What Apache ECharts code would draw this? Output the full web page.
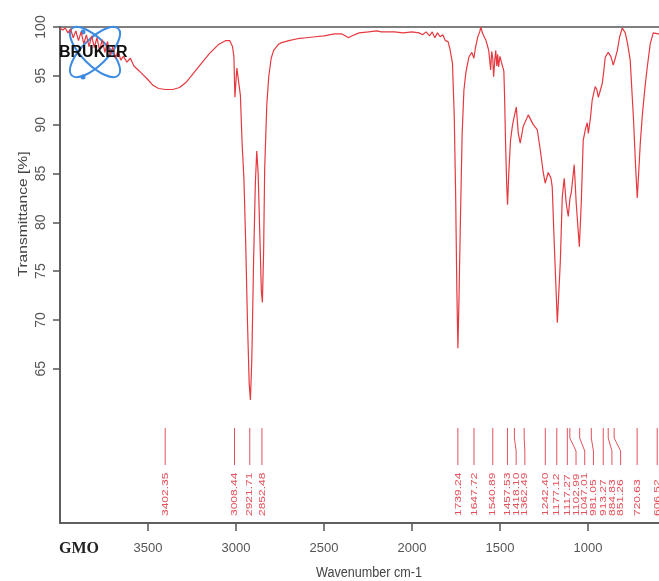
<!DOCTYPE html>
<html>
<head>
<meta charset="UTF-8">
<title>GMO FTIR</title>
<script src="https://cdn.jsdelivr.net/npm/echarts@6/dist/echarts.min.js"></script>
<style>
	html, body { margin: 0; padding: 0; background: #fff; }
	#main { width: 659px; height: 581px; }
</style>
</head>
<body>
<div id="main"></div>
<script type="text/javascript">
	// spectrum: wavenumber (cm-1) and transmittance (%)
	var wavenumbers = [
		4000, 3985, 3970, 3955, 3940, 3925, 3910, 3895, 3880, 3865, 3850, 3835, 3820, 3805, 3790, 3775,
		3760, 3745, 3730, 3715, 3700, 3685, 3670, 3655, 3640, 3620, 3600, 3580, 3550, 3500, 3470, 3440,
		3400, 3360, 3320, 3280, 3240, 3200, 3150, 3100, 3060, 3035, 3020, 3012, 3006, 3000, 2995, 2985,
		2975, 2965, 2955, 2945, 2935, 2925, 2918, 2910, 2900, 2890, 2882, 2874, 2865, 2856, 2850, 2843,
		2837, 2825, 2814, 2800, 2786, 2760, 2741, 2700, 2650, 2600, 2550, 2500, 2441, 2400, 2380, 2361,
		2340, 2300, 2248, 2200, 2175, 2100, 2050, 2000, 1960, 1940, 1920, 1900, 1885, 1870, 1855, 1840,
		1825, 1810, 1795, 1785, 1770, 1760, 1752, 1745, 1739, 1733, 1725, 1715, 1705, 1694, 1677, 1660,
		1654, 1648, 1640, 1626, 1615, 1609, 1600, 1590, 1581, 1570, 1564, 1556, 1553, 1547, 1541, 1536,
		1530, 1524, 1518, 1513, 1508, 1500, 1492, 1485, 1478, 1474, 1468, 1462, 1457, 1450, 1440, 1430,
		1423, 1407, 1396, 1385, 1368, 1339, 1311, 1288, 1271, 1254, 1243, 1226, 1210, 1203, 1192, 1174,
		1157, 1146, 1135, 1124, 1112, 1102, 1095, 1078, 1067, 1049, 1038, 1027, 1015, 1004, 998, 987,
		976, 959, 950, 941, 930, 919, 910, 902, 885, 870, 856, 845, 833, 820, 805, 788,
		775, 760, 742, 730, 720, 712, 703, 691, 675, 663, 646, 629, 600, 585
	];
	var transmittance = [
		99.9, 99.7, 99.9, 99.4, 99.8, 98.9, 99.6, 98.6, 99.5, 98.3, 99.2, 98.0, 99.1, 97.9, 98.9, 97.6,
		98.7, 97.4, 98.5, 97.1, 98.0, 96.8, 97.6, 96.6, 97.0, 96.4, 96.8, 96.0, 95.5, 94.6, 94.0, 93.7,
		93.6, 93.6, 93.8, 94.4, 95.3, 96.2, 97.3, 98.2, 98.6, 98.6, 98.0, 97.0, 92.8, 94.5, 95.8, 95.9,
		93.0, 88.0, 84.5, 78.0, 70.0, 63.5, 61.8, 66.0, 76.0, 84.0, 87.3, 85.0, 79.0, 73.0, 71.8, 77.0,
		85.5, 92.0, 94.9, 96.8, 97.6, 98.2, 98.4, 98.6, 98.8, 98.9, 99.0, 99.1, 99.3, 99.3, 99.1, 98.9,
		99.1, 99.4, 99.5, 99.6, 99.5, 99.5, 99.4, 99.5, 99.4, 99.2, 99.5, 99.1, 99.5, 98.9, 99.4, 99.0,
		99.2, 98.6, 98.5, 97.8, 96.3, 91.0, 83.0, 73.0, 67.1, 72.0, 80.0, 89.0, 93.5, 95.3, 96.9, 97.4,
		97.6, 96.8, 97.8, 99.0, 99.5, 100.0, 99.4, 99.0, 98.7, 98.0, 97.6, 96.2, 95.6, 97.5, 96.8, 94.9,
		96.5, 97.6, 96.0, 97.2, 95.9, 97.0, 96.4, 96.6, 95.5, 93.0, 88.0, 84.0, 81.8, 85.0, 88.4, 89.8,
		90.5, 91.8, 89.1, 88.1, 89.8, 91.0, 90.0, 89.5, 87.4, 85.1, 84.0, 85.1, 84.5, 83.6, 78.0, 69.7,
		76.0, 82.6, 84.5, 82.0, 80.6, 82.5, 83.0, 85.9, 82.0, 77.5, 82.0, 88.4, 89.5, 90.2, 89.1, 90.5,
		92.5, 93.9, 93.6, 92.8, 93.5, 94.2, 95.5, 96.9, 97.4, 97.0, 96.1, 96.8, 97.6, 99.0, 99.9, 99.4,
		98.3, 96.6, 90.8, 86.0, 82.5, 85.0, 88.0, 91.0, 94.0, 95.9, 98.3, 99.4, 99.3, 99.2
	];

	// picked peaks
	var peakWavenumbers = [3402.35, 3008.44, 2921.71, 2852.48, 1739.24, 1647.72, 1540.89, 1457.53, 1418.10,
		1362.49, 1242.40, 1177.12, 1117.27, 1102.99, 1047.01, 981.05, 913.27, 884.83, 851.26, 720.63, 606.52];
	var peakLabels = ['3402.35', '3008.44', '2921.71', '2852.48', '1739.24', '1647.72', '1540.89', '1457.53', '1418.10',
		'1362.49', '1242.40', '1177.12', '1117.27', '1102.99', '1047.01', '981.05', '913.27', '884.83', '851.26', '720.63', '606.52'];

	var xTicks = [3500, 3000, 2500, 2000, 1500, 1000];
	var yTicks = [65, 70, 75, 80, 85, 90, 95, 100];

	var red = '#e5393f';
	var peakRed = '#e4505a';

	var spectrum = wavenumbers.map(function (w, i) { return [w, transmittance[i]]; });

	var myChart = echarts.init(document.getElementById('main'));

	function renderPeak(params, api) {
		var i = params.dataIndex;
		var bottom = api.coord([4000, 49.2])[1];
		// spread the labels so they don't overlap
		var gap = 8.7;
		var lx = [];
		for (var k = 0; k < peakWavenumbers.length; k++) {
			var px = api.coord([peakWavenumbers[k], 60])[0];
			if (k > 0 && px < lx[k - 1] + gap) px = lx[k - 1] + gap;
			lx.push(px);
		}
		var x = api.coord([api.value(0), 60])[0];
		var tx = lx[i];
		return {
			type: 'group',
			children: [{
				type: 'polyline',
				shape: { points: [[x, bottom - 95], [x, bottom - 85], [tx, bottom - 72], [tx, bottom - 58]] },
				style: { stroke: peakRed, lineWidth: 1, fill: null }
			}, {
				type: 'text',
				x: tx,
				y: bottom - 7,
				rotation: Math.PI / 2,
				scaleY: 0.8,
				style: {
					text: peakLabels[i],
					fill: peakRed,
					fontSize: 12,
					fontFamily: 'Liberation Sans',
					align: 'left',
					verticalAlign: 'middle'
				}
			}]
		};
	}

	myChart.setOption({
		animation: false,
		grid: {
			left: 60, top: 27, width: 601, height: 496,
			outerBoundsMode: 'none',
			show: true, borderColor: '#555', borderWidth: 1.5, backgroundColor: 'transparent'
		},
		xAxis: {
			type: 'value', inverse: true, min: 585, max: 4000,
			axisLine: { show: true, lineStyle: { color: '#555', width: 1.5 } },
			axisTick: { show: true, length: 8, customValues: xTicks, lineStyle: { color: '#555', width: 1.5 } },
			axisLabel: {
				customValues: xTicks, margin: 19, color: '#555', fontSize: 13,
				fontFamily: '"Liberation Sans Narrow", "Liberation Sans", sans-serif',
				formatter: function (v) { return String(v); }
			},
			splitLine: { show: false }
		},
		yAxis: {
			type: 'value', min: 49.2, max: 100,
			axisLine: { show: true, lineStyle: { color: '#555', width: 1.5 } },
			axisTick: { show: true, length: 7, customValues: yTicks, lineStyle: { color: '#555', width: 1.5 } },
			axisLabel: {
				customValues: yTicks, rotate: 90, margin: 12, color: '#555', fontSize: 14,
				fontFamily: '"Liberation Sans", sans-serif'
			},
			splitLine: { show: false }
		},
		graphic: [
			{ type: 'ellipse', x: 95, y: 52, rotation: Math.PI / 4, z: 1,
				shape: { cx: 0, cy: 0, rx: 33, ry: 13 }, style: { stroke: '#3d8be0', lineWidth: 2, fill: null } },
			{ type: 'ellipse', x: 95, y: 52, rotation: -Math.PI / 4, z: 1,
				shape: { cx: 0, cy: 0, rx: 33, ry: 13 }, style: { stroke: '#3d8be0', lineWidth: 2, fill: null } },
			{ type: 'circle', z: 1, shape: { cx: 83, cy: 32, r: 2.5 }, style: { fill: '#3d8be0' } },
			{ type: 'circle', z: 1, shape: { cx: 83, cy: 77, r: 2.5 }, style: { fill: '#3d8be0' } },
			{ type: 'text', x: 59, y: 53, z: 10,
				style: { text: 'BRUKER', fill: '#111', font: 'bold 16px "Liberation Sans"', align: 'left', verticalAlign: 'middle' } },
			{ type: 'text', x: 59, y: 549,
				style: { text: 'GMO', fill: '#222', font: 'bold 16px "Liberation Serif"', align: 'left', verticalAlign: 'middle' } },
			{ type: 'text', x: 369, y: 573, scaleX: 0.9,
				style: { text: 'Wavenumber cm-1', fill: '#444', font: '14px "Liberation Sans"', align: 'center', verticalAlign: 'middle' } },
			{ type: 'text', x: 23, y: 214, rotation: Math.PI / 2, scaleX: 1.2,
				style: { text: 'Transmittance [%]', fill: '#444', font: '13px "Liberation Sans"', align: 'center', verticalAlign: 'middle' } }
		],
		series: [
			{
				name: 'GMO',
				type: 'line',
				data: spectrum,
				showSymbol: false,
				lineStyle: { color: red, width: 1.2 },
				z: 3
			},
			{
				type: 'custom',
				data: peakWavenumbers.map(function (w) { return [w, 55]; }),
				encode: { x: 0, y: 1 },
				renderItem: renderPeak,
				z: 3
			}
		]
	});
</script>
</body>
</html>
